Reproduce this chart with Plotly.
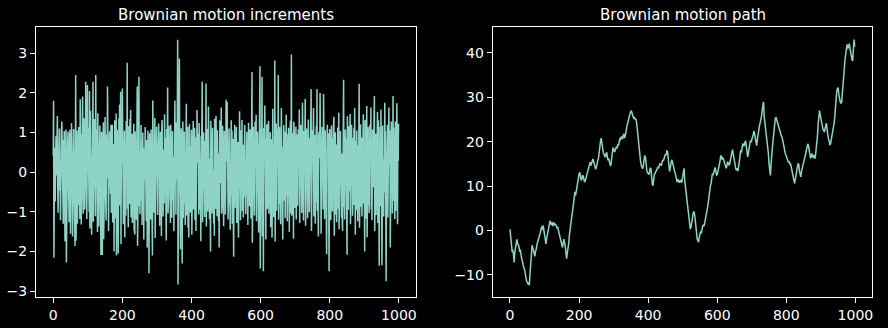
import plotly.graph_objects as go

# ---------------- data ----------------
increments = [
    0.42, 1.80, -2.16, 0.15, 0.62, -0.28, -0.74, 0.31, 0.91, -0.08, 1.12, 0.45, 1.42, -0.33, -1.02, -0.21, 0.07, 0.78, 1.10, -0.46,
    -0.13, -1.21, 0.25, 0.67, 1.06, 1.28, 0.15, -0.89, -0.52, -1.30, 0.81, 0.40, 1.04, 0.12, -1.74, -0.36, 0.58, 1.08, -2.28, -0.19,
    -1.15, 0.28, 0.81, 1.02, -0.07, -0.47, -1.26, 0.20, 1.07, 0.63, -1.55, -0.38, -0.08, 1.24, 0.41, 0.05, -1.62, -0.73, 0.44, 1.09,
    0.16, -0.92, -0.30, -1.86, 0.38, 2.45, -1.73, 0.24, 0.56, 1.05, -1.30, -0.29, 0.11, 0.52, 1.14, -0.83, -0.10, -1.18, 1.84, 0.27,
    0.95, -1.32, -0.47, 0.18, 1.21, 1.91, -0.49, -1.05, -0.18, 1.36, 0.32, -0.94, -0.40, 0.21, 2.28, 0.40, 1.62, -1.18, -0.33, 2.20,
    0.04, 1.13, 0.31, -0.69, -1.00, 2.05, -1.42, -0.24, 1.55, 0.26, 0.43, -1.58, -0.61, -0.19, 0.62, 2.28, -1.25, 0.11, 0.53, 1.34,
    -0.38, 0.07, -1.11, 2.45, 0.25, 1.08, -0.92, -0.41, -1.51, 1.49, 0.46, 0.06, -1.37, -0.15, 0.80, 1.18, 0.24, -0.67, -2.09, 0.30,
    1.02, 0.13, -2.09, -0.36, 0.45, 1.26, -1.69, -0.19, 0.72, 0.28, 1.39, -0.34, -0.58, -1.22, 0.95, 0.21, -0.14, 2.16, -1.08, 0.09,
    -1.48, -0.22, 0.29, 1.03, 0.16, -0.37, -0.55, 1.20, -1.03, 0.04, 0.48, 1.20, -1.27, -0.46, 0.19, 0.71, -2.00, -0.29, 1.31, 0.42,
    0.75, -1.16, 1.48, -2.10, -0.28, 1.07, 0.63, -0.30, -2.05, 0.12, 1.36, 0.37, 1.71, -0.84, -0.10, 2.03, -1.82, 0.21, 1.12, 0.25,
    2.11, -0.96, -0.33, -1.31, 0.08, 0.50, 1.05, -1.64, -0.22, 0.68, -1.10, 1.29, 0.43, 0.17, 2.76, -0.92, -0.16, -1.39, 1.16, 0.18,
    0.45, -0.81, 1.34, 0.27, 1.57, -1.14, -0.23, 0.09, 0.97, -1.28, -0.31, 0.34, 0.70, 1.22, -1.45, -0.50, -1.57, 1.03, 0.36, 0.79,
    -1.20, -0.12, 0.95, 2.16, -1.86, 0.07, 0.64, 1.30, 2.41, -0.85, -0.13, -1.06, 0.28, 0.39, 1.19, -0.72, -0.06, -1.33, 0.20, 1.00,
    0.16, 0.62, -1.70, 0.33, 0.47, -0.21, 1.14, -0.99, -0.15, -1.24, 0.81, 0.30, -1.90, -0.27, 1.05, 0.58, 0.18, -2.55, -0.53, 0.98,
    -0.87, 0.04, -1.19, 1.08, 0.26, 0.72, -1.53, -2.10, 1.81, 0.41, 0.60, -1.02, -0.45, -0.13, 1.37, -1.66, -0.29, 0.83, 0.25, 1.15,
    -0.52, 0.38, -1.08, -0.11, 0.64, 1.23, 0.21, 0.77, -1.35, -0.46, 1.02, 0.18, 0.15, -1.61, 1.13, 1.32, -0.44, 0.09, -1.12, 0.57,
    0.24, -0.79, 1.46, 0.33, 0.86, -1.23, -0.12, -1.72, 1.09, 0.18, 0.74, 2.14, -1.04, -0.35, -0.60, 1.17, 0.05, 0.41, 0.89, -1.28,
    1.20, 0.47, 0.63, -1.15, -0.28, 1.04, -0.71, 0.37, 0.36, -1.49, -0.15, -0.82, 1.81, 0.24, 0.70, -1.07, 1.26, 0.18, -0.18, 0.92,
    3.34, -2.83, -0.46, -0.90, 1.35, 2.87, -0.55, 0.21, -1.95, -0.26, 1.11, 0.68, 0.39, -2.30, 0.13, 1.28, -1.16, -0.52, 0.43, 1.02,
    -0.77, -0.34, -1.33, 0.98, 0.20, 1.73, -1.09, 0.11, -0.49, 1.15, -1.40, -0.27, -1.65, 0.88, 1.21, 0.36, 0.64, -1.02, -0.05, -0.81,
    1.07, -1.58, -0.19, 0.83, 0.62, 1.29, -0.94, -0.40, -0.15, 1.12, -1.21, 0.10, 0.88, -1.48, -0.31, -0.56, 1.57, 0.23, 0.97, 0.29,
    0.58, -1.07, 1.24, 0.41, 0.06, -0.95, 0.12, -1.74, 0.92, 0.50, 1.18, 2.28, -1.26, -0.37, -0.72, 1.01, 0.23, 0.79, -1.13, -0.49,
    -0.84, 0.26, 2.24, -1.37, -0.20, 0.32, 1.09, -0.99, -0.43, 1.66, 0.67, 0.15, -1.18, 0.34, -0.47, -2.00, 1.30, 0.21, 0.72, -1.04,
    -0.38, 1.12, -0.78, 0.05, -1.29, -0.09, -1.60, 1.35, 0.14, 0.67, -0.93, 1.42, 0.53, 0.22, -1.11, 1.06, 0.38, -0.21, -1.23, 0.47,
    -1.90, -0.34, 1.31, 0.60, 0.96, -0.27, 1.63, -1.05, -0.13, -0.70, 1.17, 0.44, 0.58, -1.36, 0.25, 1.04, 0.19, 0.66, -1.07, -0.40,
    1.83, 0.28, 0.51, 1.78, -0.35, 0.12, -1.19, -0.28, 0.63, 1.10, -0.82, 0.05, -1.45, 0.71, 0.24, 1.31, -0.57, 1.05, -1.30, -0.36,
    0.84, -1.11, -2.13, 0.02, 0.40, 1.20, -0.91, -0.30, 0.98, 0.66, 1.14, -1.28, -0.49, -0.17, 0.76, -1.02, -1.65, 0.27, 0.31, 1.54,
    -0.73, -0.41, -1.21, 0.88, 1.06, 0.45, 1.32, -0.98, -0.20, 0.69, -1.14, -0.13, 0.95, 0.29, 1.19, -0.62, -0.07, -1.06, 0.82, 0.14,
    1.02, -0.55, 0.06, -1.33, 0.79, 1.25, 0.37, 0.61, -0.86, 1.08, 0.21, 0.93, -1.17, -0.34, 1.41, 2.53, -1.78, 0.10, 0.48, 1.15,
    -0.66, 0.19, -1.09, 0.42, 1.27, 0.30, 0.74, 1.45, -1.24, -0.16, -0.81, 1.03, 0.12, 0.68, -1.52, 0.37, -0.39, 1.36, 2.67, -2.43,
    0.61, -1.18, 1.09, 0.57, 2.41, -1.62, -0.33, 0.90, -2.50, 1.12, 0.44, 0.78, 1.68, -1.27, -0.25, -1.70, 0.85, 0.02, 1.21, -0.93,
    0.47, -0.71, 1.16, 1.29, -1.05, -0.36, -0.88, 0.62, 1.01, -1.39, -0.19, -0.54, 0.83, -1.65, 0.15, 1.60, 0.32, 0.71, -1.13, -0.44,
    -0.86, 2.82, -1.75, 0.18, 0.41, 1.23, -0.97, -0.30, 1.08, 0.23, 0.49, 2.45, -1.20, 0.12, -0.26, 1.15, -0.80, -0.38, -1.31, 0.91,
    1.62, 0.49, 0.64, -0.95, -1.70, 0.27, -0.34, 1.19, -0.72, -0.05, 1.03, -1.16, -0.28, -0.58, 1.45, 0.09, 0.66, -1.24, -0.50, 0.97,
    0.39, 1.12, -0.67, -1.51, 0.82, 0.22, 1.30, -1.04, -0.23, 2.97, -1.10, -0.35, -0.74, 0.98, 0.46, -1.68, 1.27, 0.18, 0.79, -0.90,
    -0.43, -0.62, 1.15, -1.19, 0.10, 0.31, 0.96, -0.85, -0.24, 1.08, 0.53, 0.67, 1.58, -1.28, -0.39, -0.76, 1.20, 0.41, 0.88, -1.03,
    0.15, 1.75, -0.69, 0.32, -1.22, -0.31, 1.04, 0.47, 0.80, 1.85, -1.35, -0.27, -0.60, 1.10, 0.14, 0.48, -1.16, 0.03, 1.33, 0.38,
    0.64, -1.01, -0.19, 0.86, 0.56, 1.22, 2.10, -1.48, -0.42, -0.83, 1.06, 0.27, 0.71, 1.62, -1.12, -0.36, -0.65, 0.94, -1.30, 0.08,
    -0.20, 1.17, -0.76, 2.10, -0.97, -0.15, -0.51, -1.62, 0.89, 1.02, 0.35, 0.68, 2.00, -1.08, -0.29, -1.55, 0.83, 0.43, 1.14, -0.70,
    0.52, -0.94, 1.97, 0.26, 0.77, -1.18, 0.10, 1.06, -0.61, 0.31, -1.33, -2.07, 0.58, 1.20, 0.45, 0.73, 0.98, -0.82, -2.50, -0.34,
    1.09, 0.57, 0.16, -1.21, -0.31, 1.18, -0.74, 0.09, -0.99, 0.85, 0.36, 1.25, 1.40, -1.60, -0.12, -0.18, 1.01, -1.07, 0.44, 0.70,
    -1.26, -0.39, -0.63, 1.13, -0.92, 0.07, 1.50, -1.44, -0.28, 0.81, 0.52, 1.04, -0.31, 0.16, -1.15, 0.47, -1.20, -1.48, 0.93, 0.40,
    2.33, -0.88, 0.09, -1.19, -0.26, 1.08, 0.67, 0.84, -1.36, -0.05, -2.08, 1.41, 0.23, 0.70, -0.95, 1.16, -0.48, 0.02, 1.03, 1.47,
    -1.31, -0.38, -0.72, 1.20, 0.16, 0.87, -1.10, -0.24, 0.92, 0.60, 1.11, -0.83, 1.62, 0.37, -1.58, 0.79, 0.33, -0.96, 1.05, -0.15,
    0.68, -1.24, -0.41, -0.57, 0.99, 2.23, -1.40, 0.05, -0.33, 1.21, -0.88, -0.30, 0.87, -1.12, 0.14, -0.26, 1.07, 1.46, -0.79, 0.20,
    -0.61, -2.00, 1.32, 0.47, 0.78, -1.17, -0.24, 1.67, -1.64, 0.13, -0.35, 1.14, -0.82, 0.48, -1.03, 0.11, 1.19, 0.55, 0.36, 1.63,
    -0.94, 0.22, -1.21, -0.29, 1.08, 0.64, 0.86, -0.38, 1.27, 1.92, -1.49, -0.53, -0.19, 0.97, -1.08, 0.04, 1.23, 0.70, 1.52, -1.28,
    0.40, 1.31, -0.58, -2.36, 0.12, -0.27, 1.14, -0.85, 1.58, 0.43, 0.75, -2.35, -0.60, 1.18, -0.96, 0.33, -1.12, 0.26, -0.51, 1.75,
    0.69, 1.04, -1.25, -2.75, -0.48, 0.94, 0.36, 1.20, -1.14, -0.17, -0.80, 1.63, 0.22, 0.79, 1.06, -1.90, -0.15, -1.33, 1.28, 0.46,
    0.87, -1.04, -0.35, 1.92, -0.72, 1.13, 0.29, 0.68, -1.18, 0.21, 1.28, -0.98, -0.12, 1.05, 1.74, 0.63, -1.31, 1.22, 0.28, 1.22,
]
increment_steps = list(range(len(increments)))

path_steps = list(range(0, 1000, 2)) + [999]
path_values = [
    0.3, -1.2, -2.8, -4.6, -4.5, -5.3, -7.2, -4.8, -3.5, -2.4,
    -2.0, -2.9, -3.2, -3.6, -4.8, -4.3, -5.6, -6.5, -7.0, -7.4,
    -8.4, -8.7, -9.9, -10.8, -11.4, -11.6, -12.1, -11.7, -12.3, -9.6,
    -7.5, -5.1, -3.3, -3.9, -4.4, -4.9, -5.8, -4.6, -4.2, -3.1,
    -2.6, -2.4, -1.8, -0.9, -0.4, 0.4, 0.9, 0.2, 1.2, 0.1,
    -1.2, -2.1, -3.0, -1.8, -0.9, 0.2, 0.8, 1.4, 2.2, 1.6,
    1.3, 1.9, 1.0, 1.5, 1.8, 1.2, 1.5, 1.0, 0.5, 0.9,
    -0.4, -0.6, -1.2, -1.7, -2.6, -3.2, -3.8, -2.5, -1.9, -2.8,
    -3.5, -5.1, -6.3, -5.0, -4.2, -2.9, -1.0, 0.6, 1.8, 2.5,
    3.8, 4.9, 6.4, 7.2, 8.7, 7.9, 9.0, 10.4, 11.2, 12.4,
    12.8, 13.1, 12.4, 11.3, 11.6, 12.5, 12.2, 11.4, 10.9, 11.2,
    11.8, 12.3, 13.0, 13.9, 14.2, 15.0, 15.4, 14.6, 15.0, 15.8,
    16.1, 15.6, 14.9, 14.1, 13.8, 14.4, 14.8, 15.9, 16.2, 17.5,
    19.3, 20.1, 20.8, 19.2, 18.4, 17.6, 17.2, 16.6, 16.5, 17.3,
    17.6, 16.5, 15.8, 16.2, 15.1, 14.8, 14.6, 16.3, 17.6, 18.7,
    18.4, 17.7, 17.9, 18.6, 18.9, 18.5, 19.4, 19.1, 20.0, 20.6,
    20.5, 21.1, 21.0, 20.6, 21.4, 21.8, 20.8, 21.3, 22.2, 23.3,
    24.1, 24.8, 25.3, 25.9, 26.3, 26.9, 26.8, 26.2, 25.9, 25.2,
    25.6, 25.0, 25.2, 24.6, 23.2, 21.4, 19.5, 18.0, 16.8, 15.6,
    14.7, 14.1, 13.9, 14.6, 15.4, 16.9, 16.6, 14.5, 13.6, 13.1,
    12.9, 12.6, 13.2, 14.1, 13.9, 11.8, 10.4, 10.1, 11.8, 12.7,
    12.9, 13.4, 13.6, 13.9, 14.3, 14.0, 14.6, 15.1, 14.9, 14.6,
    15.3, 15.9, 15.7, 16.2, 16.3, 17.2, 17.0, 17.9, 17.8, 15.6,
    14.5, 13.3, 14.2, 15.2, 15.9, 15.6, 14.6, 13.8, 13.5, 13.0,
    12.4, 11.8, 10.9, 11.6, 11.3, 10.8, 11.1, 11.4, 10.8, 11.1,
    12.2, 13.5, 14.0, 11.2, 9.8, 9.1, 7.9, 6.1, 4.6, 3.2,
    1.6, 0.3, 0.8, 2.2, 3.1, 3.8, 4.3, 3.9, 2.6, 0.9,
    -0.6, -1.9, -2.3, -2.6, -1.4, -0.8, -0.2, -0.6, 0.6, 1.1,
    1.2, 1.0, 1.9, 2.6, 3.4, 4.5, 5.2, 6.3, 7.8, 9.1,
    10.0, 10.5, 11.6, 12.8, 12.5, 13.3, 13.9, 14.2, 13.4, 12.5,
    12.6, 13.2, 14.0, 14.9, 15.6, 16.9, 16.7, 16.0, 16.3, 16.1,
    15.5, 14.8, 14.4, 14.0, 14.6, 15.5, 15.2, 14.7, 15.0, 15.9,
    16.8, 17.6, 18.2, 17.4, 16.6, 15.4, 14.2, 13.8, 13.6, 14.0,
    13.4, 14.2, 15.6, 16.9, 18.1, 17.6, 18.9, 19.6, 19.3, 19.0,
    19.8, 20.2, 19.2, 17.5, 16.6, 17.4, 18.5, 19.6, 20.3, 19.9,
    20.8, 21.0, 21.5, 22.4, 21.9, 20.7, 19.6, 19.1, 20.4, 21.8,
    23.1, 23.5, 24.2, 24.8, 25.6, 27.0, 28.5, 29.0, 25.6, 24.4,
    23.0, 22.1, 20.8, 18.9, 17.4, 15.0, 13.1, 12.4, 15.2, 16.4,
    18.9, 20.6, 22.3, 23.9, 25.2, 25.5, 24.9, 24.6, 24.2, 23.4,
    23.0, 22.5, 21.8, 21.2, 20.9, 20.3, 19.8, 18.6, 17.6, 17.2,
    16.9, 16.6, 16.2, 15.4, 15.6, 14.9, 15.1, 14.4, 13.8, 13.0,
    12.2, 11.4, 10.6, 11.5, 12.8, 14.0, 14.3, 15.1, 14.9, 13.4,
    12.5, 12.1, 13.4, 14.2, 15.0, 15.6, 16.1, 16.6, 17.3, 18.0,
    18.6, 19.5, 19.2, 18.1, 17.0, 16.3, 16.5, 17.3, 17.1, 16.4,
    17.0, 16.2, 16.6, 17.9, 19.6, 21.2, 23.8, 25.6, 27.0, 26.1,
    25.1, 24.0, 23.8, 22.8, 22.6, 22.2, 22.9, 23.7, 24.2, 22.8,
    21.0, 20.6, 20.2, 19.4, 19.5, 20.3, 21.2, 21.9, 22.8, 24.0,
    25.3, 27.8, 30.4, 31.5, 31.9, 32.2, 30.6, 29.5, 29.0, 28.7,
    28.8, 30.7, 33.4, 35.9, 37.6, 38.6, 39.7, 41.6, 41.9, 41.0,
    41.3, 42.1, 40.8, 39.8, 39.4, 38.5, 38.2, 40.6, 43.0, 41.5,
    41.6,
]

x_ticks = [0, 200, 400, 600, 800, 1000]
inc_ticks = [-3, -2, -1, 0, 1, 2, 3]
path_ticks = [-10, 0, 10, 20, 30, 40]
titles = ["Brownian motion increments", "Brownian motion path"]

# ---------------- figure ----------------
W, H = 888, 328
LINE = "#8dd3c7"
FG = "#ffffff"
FONT = "DejaVu Sans, Arial, sans-serif"

fig = go.Figure()
fig.add_trace(go.Scatter(x=increment_steps, y=increments, mode="lines",
                         line=dict(color=LINE, width=1.5), xaxis="x", yaxis="y",
                         showlegend=False, hoverinfo="skip"))
fig.add_trace(go.Scatter(x=path_steps, y=path_values, mode="lines",
                         line=dict(color=LINE, width=1.5), xaxis="x2", yaxis="y2",
                         showlegend=False, hoverinfo="skip"))

ytop = 1 - 27.3 / H
ybot = 1 - 299.3 / H
dom1 = [36.0 / W, 416.3 / W]
dom2 = [493.3 / W, 873.3 / W]

axis_common = dict(showline=True, mirror=True, linecolor=FG, linewidth=1,
                   ticks="outside", ticklen=5, tickwidth=1, tickcolor=FG,
                   showgrid=False, zeroline=False,
                   tickfont=dict(family=FONT, size=14, color=FG))

fig.update_layout(
    width=W, height=H,
    margin=dict(l=0, r=0, t=0, b=0),
    paper_bgcolor="#000000", plot_bgcolor="#000000",
    font=dict(family=FONT, color=FG),
    xaxis=dict(domain=dom1, range=[-49.95, 1048.95], tickvals=x_ticks,
               anchor="y", **axis_common),
    yaxis=dict(domain=[ybot, ytop], range=[-3.16, 3.66], tickvals=inc_ticks,
               anchor="x", **axis_common),
    xaxis2=dict(domain=dom2, range=[-49.95, 1048.95], tickvals=x_ticks,
                anchor="y2", **axis_common),
    yaxis2=dict(domain=[ybot, ytop], range=[-15.06, 45.8], tickvals=path_ticks,
                anchor="x2", **axis_common),
)

for dom, t in zip([dom1, dom2], titles):
    fig.add_annotation(text=t, xref="paper", yref="paper",
                       x=(dom[0] + dom[1]) / 2, y=1 - 15.5 / H,
                       xanchor="center", yanchor="middle", showarrow=False,
                       font=dict(family=FONT, size=15, color=FG))

fig.write_html("out.html")
